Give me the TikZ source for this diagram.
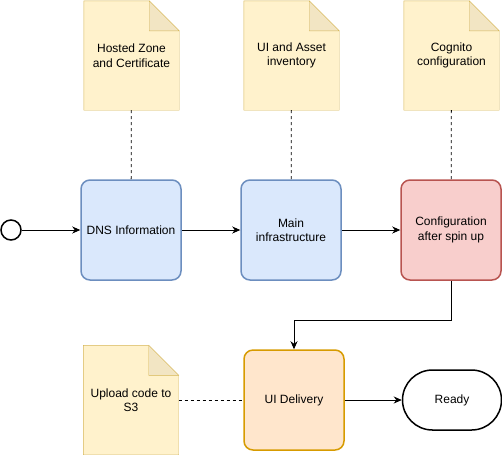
\documentclass[tikz,border=0pt]{standalone}
\usepackage{fontspec}
\setmainfont{Liberation Sans}
\usetikzlibrary{arrows.meta}

\definecolor{blueFill}{HTML}{DAE8FC}
\definecolor{blueLine}{HTML}{6C8EBF}
\definecolor{redFill}{HTML}{F8CECC}
\definecolor{redLine}{HTML}{B85450}
\definecolor{orangeFill}{HTML}{FFE6CC}
\definecolor{orangeLine}{HTML}{D79B00}
\definecolor{noteFill}{HTML}{FFF2CC}
\definecolor{noteLine}{HTML}{D6B656}
\definecolor{foldFill}{HTML}{F2E5C3}

\tikzset{
  task/.style={draw,rounded corners=9pt,line width=1.5pt,minimum width=100pt,minimum height=100pt,align=center},
  note/.style={inner sep=0pt,minimum width=95pt,minimum height=109pt,align=center},
  flow/.style={-{Stealth[length=8pt,width=7pt,inset=2.5pt]},line width=0.8pt},
  link/.style={dashed,line width=0.8pt}
}

% dog-eared note drawn round a named node
\newcommand{\notefold}[1]{%
  \draw[noteLine,fill=noteFill] (#1.north west) -- ([xshift=-30pt]#1.north east)
    -- ([yshift=-30pt]#1.north east) -- (#1.south east) -- (#1.south west) -- cycle;
  \draw[noteLine,fill=foldFill] ([xshift=-30pt]#1.north east)
    -- ([xshift=-30pt,yshift=-30pt]#1.north east) -- ([yshift=-30pt]#1.north east) -- cycle;
}

\begin{document}
\begin{tikzpicture}[x=1pt,y=-1pt,font=\fontsize{12}{14.5}\selectfont]
      \useasboundingbox (0,0) rectangle (502,456);

      % notes
      \node[note] (n1) at (131.5,55.5) {};
      \node[note] (n2) at (291.5,55.5) {};
      \node[note] (n3) at (451.5,55.5) {};
      \node[note] (n4) at (131,400) {};
      \notefold{n1}
      \notefold{n2}
      \notefold{n3}
      \notefold{n4}
      \node[align=center] at (n1) {Hosted Zone\\and Certificate};
      \node[align=center] at (n2) {UI and Asset\\inventory};
      \node[align=center] at (n3) {Cognito\\configuration};
      \node[align=center] at (n4) {Upload code to\\S3};

      % steps
      \node[circle,draw,line width=1.5pt,minimum size=20pt,inner sep=0pt] (0) at (11,230) {};
      \node[task,fill=blueFill,draw=blueLine] (1) at (131,230) {DNS Information};
      \node[task,fill=blueFill,draw=blueLine] (2) at (291,230) {Main\\infrastructure};
      \node[task,fill=redFill,draw=redLine] (3) at (451,230) {Configuration\\after spin up};
      \node[task,fill=orangeFill,draw=orangeLine] (4) at (294,400) {UI Delivery};
      \node[draw,rounded corners=30pt,line width=1.5pt,minimum width=99pt,minimum height=60pt] (5) at (452,400) {Ready};

      \draw[flow] (0) -- (1);
      \draw[flow] (1) -- (2);
      \draw[flow] (2) -- (3);
      \draw[flow] (3.south) -- ++(0,40) -| (4.north);
      \draw[flow] (4) -- (5);

      \draw[link] (n1) -- (1);
      \draw[link] (n2) -- (2);
      \draw[link] (n3) -- (3);
      \draw[link] (n4) -- (4);
    \end{tikzpicture}
\end{document}
